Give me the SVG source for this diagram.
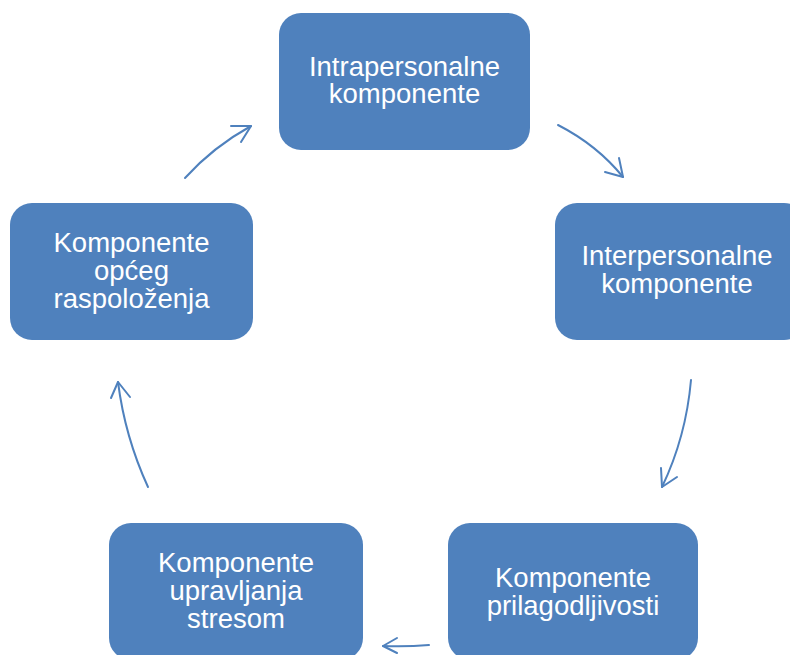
<svg xmlns="http://www.w3.org/2000/svg" width="790" height="655" viewBox="0 0 790 655">
<defs>
<style>
.node{fill:#4F81BD;}
.lbl{font-family:"Liberation Sans",Arial,sans-serif;font-size:27.5px;fill:#FFFFFF;text-anchor:middle;}
.arc{fill:none;stroke:#4F81BD;stroke-width:2;stroke-linecap:round;stroke-linejoin:round;}
</style>
</defs>
<rect width="790" height="655" fill="#FFFFFF"/>
<g id="node-intrapersonalne">
<rect class="node" x="279" y="13" width="251" height="137" rx="22"/>
<text class="lbl" x="404.5" y="76">Intrapersonalne</text>
<text class="lbl" x="404.5" y="103">komponente</text>
</g>
<g id="node-interpersonalne">
<rect class="node" x="555" y="203" width="251" height="137" rx="22"/>
<text class="lbl" x="677" y="265">Interpersonalne</text>
<text class="lbl" x="677" y="293">komponente</text>
</g>
<g id="node-prilagodljivosti">
<rect class="node" x="448" y="523" width="250" height="137" rx="22"/>
<text class="lbl" x="573" y="587">Komponente</text>
<text class="lbl" x="573" y="615">prilagodljivosti</text>
</g>
<g id="node-stres">
<rect class="node" x="109" y="523" width="254" height="137" rx="22"/>
<text class="lbl" x="236" y="572">Komponente</text>
<text class="lbl" x="236" y="600">upravljanja</text>
<text class="lbl" x="236" y="628">stresom</text>
</g>
<g id="node-raspolozenje">
<rect class="node" x="10" y="203" width="243" height="137" rx="22"/>
<text class="lbl" x="131.5" y="252">Komponente</text>
<text class="lbl" x="131.5" y="280">općeg</text>
<text class="lbl" x="131.5" y="308">raspoloženja</text>
</g>
<g id="connectors">
<path class="arc" d="M185,178 Q213,147 251,126"/>
<path class="arc" d="M231,126 L251,126 L241,142"/>
<path class="arc" d="M558,125 Q597,145 623,177"/>
<path class="arc" d="M605,172 L623,177 L619,158"/>
<path class="arc" d="M691,380 Q686,437 662,487"/>
<path class="arc" d="M661,468 L662,487 L677,477"/>
<path class="arc" d="M429,645 Q406,647 383,646"/>
<path class="arc" d="M397,638 L383,646 L397,653"/>
<path class="arc" d="M148,487 Q125,437 118,382"/>
<path class="arc" d="M111,398 L118,382 L130,397"/>
</g>
</svg>
